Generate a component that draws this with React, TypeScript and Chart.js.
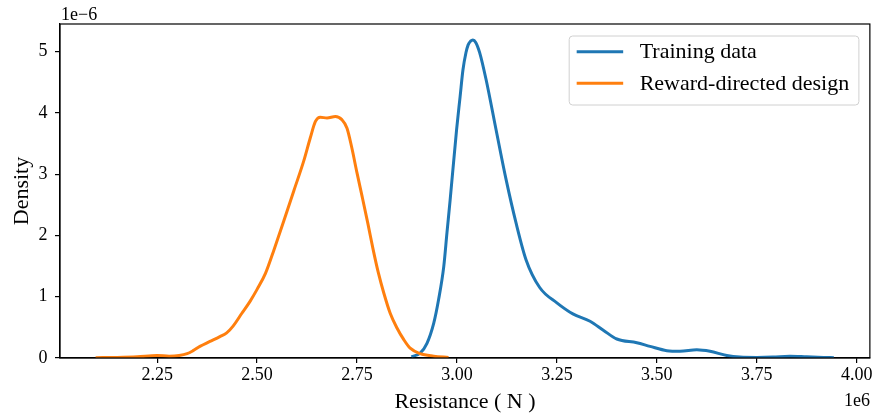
import React, { useEffect, useRef } from 'react';
import { Chart, registerables } from 'chart.js';

Chart.register(...registerables);

// ---- data (x in units of 1e6 N, density in units of 1e-6) ----
const X_LABEL = 'Resistance ( N )';
const Y_LABEL = 'Density';
const X_OFFSET_TEXT = '1e6';
const Y_OFFSET_TEXT = '1e\u22126';
const X_TICKS = [2.25, 2.5, 2.75, 3.0, 3.25, 3.5, 3.75, 4.0];
const Y_TICKS = [0, 1, 2, 3, 4, 5];
const X_MIN = 2.007;
const X_MAX = 4.033;
const Y_MIN = 0;
const Y_MAX = 5.45;
const SERIES_NAMES = ['Training data', 'Reward-directed design'];
const SERIES_COLORS = ['#1f77b4', '#ff7f0e'];

const TRAIN_X = [2.886, 2.908, 2.925, 2.942, 2.954, 2.967, 2.975, 2.983, 2.999, 3.008, 3.015, 3.0225, 3.028, 3.034, 3.04, 3.047, 3.057, 3.073, 3.098, 3.123, 3.148, 3.173, 3.207, 3.25, 3.29, 3.333, 3.367, 3.40, 3.45, 3.483, 3.525, 3.558, 3.60, 3.633, 3.675, 3.708, 3.75, 3.79, 3.833, 3.875, 3.917, 3.943];
const TRAIN_Y = [0.02, 0.08, 0.24, 0.57, 0.95, 1.49, 2.04, 2.58, 3.72, 4.27, 4.70, 4.98, 5.11, 5.17, 5.19, 5.15, 4.98, 4.54, 3.72, 2.91, 2.20, 1.60, 1.15, 0.90, 0.72, 0.60, 0.45, 0.31, 0.25, 0.19, 0.12, 0.11, 0.135, 0.11, 0.04, 0.015, 0.01, 0.015, 0.03, 0.02, 0.01, 0.005];

const REWARD_X = [2.096, 2.15, 2.20, 2.25, 2.28, 2.305, 2.325, 2.34, 2.357, 2.382, 2.407, 2.424, 2.44, 2.462, 2.482, 2.50, 2.521, 2.542, 2.567, 2.592, 2.617, 2.633, 2.646, 2.658, 2.675, 2.696, 2.712, 2.725, 2.737, 2.75, 2.763, 2.777, 2.79, 2.803, 2.817, 2.833, 2.85, 2.867, 2.883, 2.908, 2.942, 2.979];
const REWARD_Y = [0.005, 0.01, 0.02, 0.04, 0.03, 0.04, 0.07, 0.12, 0.19, 0.27, 0.35, 0.41, 0.52, 0.73, 0.92, 1.12, 1.38, 1.76, 2.24, 2.73, 3.22, 3.59, 3.86, 3.93, 3.915, 3.94, 3.89, 3.75, 3.43, 3.02, 2.63, 2.20, 1.78, 1.40, 1.06, 0.73, 0.49, 0.30, 0.16, 0.07, 0.03, 0.01];

const FONT = "'Liberation Serif', 'Times New Roman', serif";

const framePlugin = {
  id: 'frameAndLegend',
  afterDraw(chart: any) {
    const { ctx, chartArea } = chart;
    const { left, right, top, bottom } = chartArea;
    ctx.save();
    // frame
    ctx.strokeStyle = '#000';
    ctx.lineWidth = 1.2;
    ctx.strokeRect(left, top, right - left, bottom - top);

    // offset texts
    ctx.fillStyle = '#000';
    ctx.font = `18px ${FONT}`;
    ctx.textBaseline = 'alphabetic';
    ctx.textAlign = 'left';
    ctx.fillText(Y_OFFSET_TEXT, left + 1, top - 4.5);
    ctx.textAlign = 'right';
    ctx.fillText(X_OFFSET_TEXT, right, bottom + 47.5);

    // legend
    const boxRight = right - 11;
    const boxLeft = boxRight - 289.7;
    const boxTop = top + 12;
    const boxBottom = boxTop + 69;
    const r = 3.5;
    ctx.beginPath();
    ctx.moveTo(boxLeft + r, boxTop);
    ctx.lineTo(boxRight - r, boxTop);
    ctx.quadraticCurveTo(boxRight, boxTop, boxRight, boxTop + r);
    ctx.lineTo(boxRight, boxBottom - r);
    ctx.quadraticCurveTo(boxRight, boxBottom, boxRight - r, boxBottom);
    ctx.lineTo(boxLeft + r, boxBottom);
    ctx.quadraticCurveTo(boxLeft, boxBottom, boxLeft, boxBottom - r);
    ctx.lineTo(boxLeft, boxTop + r);
    ctx.quadraticCurveTo(boxLeft, boxTop, boxLeft + r, boxTop);
    ctx.closePath();
    ctx.fillStyle = 'rgba(255,255,255,0.8)';
    ctx.fill();
    ctx.strokeStyle = '#d0d0d0';
    ctx.lineWidth = 1;
    ctx.stroke();

    ctx.font = `22px ${FONT}`;
    ctx.textAlign = 'left';
    ctx.textBaseline = 'middle';
    SERIES_NAMES.forEach((name, i) => {
      const y = boxTop + 15.7 + i * 31.6;
      ctx.strokeStyle = SERIES_COLORS[i];
      ctx.lineWidth = 3;
      ctx.beginPath();
      ctx.moveTo(boxLeft + 7.5, y);
      ctx.lineTo(boxLeft + 54, y);
      ctx.stroke();
      ctx.fillStyle = '#000';
      ctx.fillText(name, boxLeft + 70.5, y + 1);
    });
    ctx.restore();
  },
};

export default function App() {
  const canvasRef = useRef<HTMLCanvasElement | null>(null);

  useEffect(() => {
    const canvas = canvasRef.current;
    if (!canvas) return;
    const gridCommon = {
      display: true,
      drawOnChartArea: false,
      drawTicks: true,
      tickLength: 5,
      color: '#000',
      lineWidth: 1.2,
    };
    const chart = new Chart(canvas, {
      type: 'line',
      data: {
        datasets: [
          {
            label: SERIES_NAMES[0],
            data: TRAIN_X.map((x, i) => ({ x, y: TRAIN_Y[i] })),
            borderColor: SERIES_COLORS[0],
            backgroundColor: SERIES_COLORS[0],
            borderWidth: 3,
            pointRadius: 0,
            fill: false,
            cubicInterpolationMode: 'monotone',
            order: 1,
          },
          {
            label: SERIES_NAMES[1],
            data: REWARD_X.map((x, i) => ({ x, y: REWARD_Y[i] })),
            borderColor: SERIES_COLORS[1],
            backgroundColor: SERIES_COLORS[1],
            borderWidth: 3,
            pointRadius: 0,
            fill: false,
            cubicInterpolationMode: 'monotone',
            order: 0,
          },
        ],
      },
      options: {
        animation: false,
        responsive: false,
        maintainAspectRatio: false,
        devicePixelRatio: 1,
        layout: { padding: { left: 0, right: 4, top: 24, bottom: 0 } },
        plugins: {
          legend: { display: false },
          tooltip: { enabled: false },
        },
        scales: {
          x: {
            type: 'linear',
            min: X_MIN,
            max: X_MAX,
            afterBuildTicks: (s: any) => {
              s.ticks = X_TICKS.map((v) => ({ value: v }));
            },
            afterFit: (s: any) => {
              s.height = 59;
            },
            ticks: {
              autoSkip: false,
              maxRotation: 0,
              minRotation: 0,
              padding: 1.5,
              color: '#000',
              font: { family: FONT, size: 18 },
              callback: (v: any) => Number(v).toFixed(2),
            },
            grid: gridCommon,
            border: { display: true, color: '#000', width: 1.2 },
            title: {
              display: true,
              text: X_LABEL,
              color: '#000',
              font: { family: FONT, size: 22 },
              padding: { top: 0, bottom: 1.3 },
            },
          },
          y: {
            type: 'linear',
            min: Y_MIN,
            max: Y_MAX,
            afterBuildTicks: (s: any) => {
              s.ticks = Y_TICKS.map((v) => ({ value: v }));
            },
            afterFit: (s: any) => {
              s.width = 60;
            },
            ticks: {
              autoSkip: false,
              padding: 7.5,
              color: '#000',
              font: { family: FONT, size: 18 },
              callback: (v: any) => String(Math.round(Number(v))),
            },
            grid: gridCommon,
            border: { display: true, color: '#000', width: 1.2 },
            title: {
              display: true,
              text: Y_LABEL,
              color: '#000',
              font: { family: FONT, size: 22 },
              padding: { top: 9.1, bottom: 0 },
            },
          },
        },
      },
      plugins: [framePlugin],
    } as any);
    return () => chart.destroy();
  }, []);

  return (
    <div style={{ position: 'absolute', left: 0, top: 0, width: 874, height: 417, background: '#fff' }}>
      <canvas ref={canvasRef} width={874} height={417} style={{ width: 874, height: 417, display: 'block' }} />
    </div>
  );
}
